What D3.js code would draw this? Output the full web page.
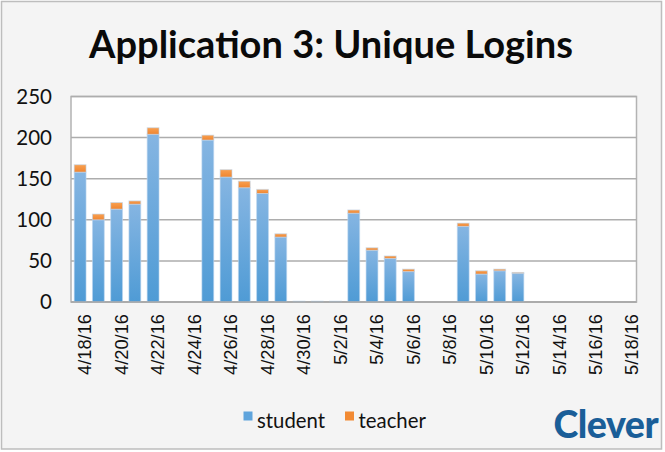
<!DOCTYPE html>
<html>
<head>
<meta charset="utf-8">
<script src="https://cdn.jsdelivr.net/npm/d3@7"></script>
<style>
  html, body { margin: 0; padding: 0; background: #ffffff; }
  svg { display: block; }
</style>
</head>
<body>
<svg id="chart" width="665" height="452"></svg>
<script>
const title = "Application 3: Unique Logins";
const categories = ["4/18/16","4/19/16","4/20/16","4/21/16","4/22/16","4/23/16","4/24/16","4/25/16","4/26/16","4/27/16","4/28/16","4/29/16","4/30/16","5/1/16","5/2/16","5/3/16","5/4/16","5/5/16","5/6/16","5/7/16","5/8/16","5/9/16","5/10/16","5/11/16","5/12/16","5/13/16","5/14/16","5/15/16","5/16/16","5/17/16","5/18/16"];
const student = [158,100,113,119,204,0,0,197,152,139,132,79,1,1,1,108,63,53,37,0,0,92,34,38,35,0,0,0,0,0,0];
const teacher = [9,7,8,4,8,0,0,6,9,8,5,4,0,0,0,4,3,3,3,0,0,4,4,2,1,0,0,0,0,0,0];
const tickLabels = ["4/18/16","4/20/16","4/22/16","4/24/16","4/26/16","4/28/16","4/30/16","5/2/16","5/4/16","5/6/16","5/8/16","5/10/16","5/12/16","5/14/16","5/16/16","5/18/16"];
const yTicks = [0,50,100,150,200,250];
const seriesNames = ["student","teacher"];

const svg = d3.select("#chart");
const plot = {left: 71, right: 636.5, top: 96.5, bottom: 302};

function fitFont(sel, base, target) {
  const w = sel.node().getComputedTextLength();
  sel.attr("font-size", base * target / w);
  return base * target / w;
}

// frame
svg.append("rect").attr("x",1.5).attr("y",1.5).attr("width",660).attr("height",447.5)
  .attr("fill","#f4f4f4").attr("stroke","#bdbdbd").attr("stroke-width",1.5);

const defs = svg.append("defs");
const gB = defs.append("linearGradient").attr("id","gBlue").attr("x1",0).attr("y1",0).attr("x2",0).attr("y2",1);
gB.append("stop").attr("offset","0%").attr("stop-color","#85b5e2");
gB.append("stop").attr("offset","100%").attr("stop-color","#4f9bd5");
const gO = defs.append("linearGradient").attr("id","gOrange").attr("x1",0).attr("y1",0).attr("x2",0).attr("y2",1);
gO.append("stop").attr("offset","0%").attr("stop-color","#f9a050");
gO.append("stop").attr("offset","100%").attr("stop-color","#ef8530");

// plot area
svg.append("rect").attr("x",plot.left).attr("y",plot.top)
  .attr("width",plot.right-plot.left).attr("height",plot.bottom-plot.top)
  .attr("fill","#ffffff").attr("stroke","#b3b3b3").attr("stroke-width",1.5);

const x = d3.scaleBand().domain(categories).range([plot.left, plot.right]).paddingInner(0.35).paddingOuter(0.175);
const y = d3.scaleLinear().domain([0,250]).range([plot.bottom, plot.top]);

// gridlines
svg.append("g").selectAll("line").data(yTicks).join("line")
  .attr("x1",plot.left).attr("x2",plot.right)
  .attr("y1",d=>y(d)).attr("y2",d=>y(d))
  .attr("stroke","#adadad").attr("stroke-width",1.5);

// y axis
const yAxis = svg.append("g").attr("transform",`translate(${plot.left},0)`)
  .call(d3.axisLeft(y).tickValues(yTicks).tickSize(0).tickPadding(19));
yAxis.select(".domain").remove();
yAxis.selectAll("text").attr("font-family","Lato, 'Noto Sans', sans-serif").attr("font-size",20.5).attr("fill","#111");

// stacked bars
const rows = categories.map((c,i)=>({cat:c, student:student[i], teacher:teacher[i]}));
const stack = d3.stack().keys(seriesNames)(rows);
const fills = {student:"url(#gBlue)", teacher:"url(#gOrange)"};
svg.append("g").selectAll("g").data(stack).join("g")
  .attr("fill", d=>fills[d.key])
  .selectAll("rect").data(d=>d.filter(p=>p[1]-p[0]>0)).join("rect")
  .attr("x", d=>x(d.data.cat))
  .attr("width", x.bandwidth())
  .attr("y", d=>y(d[1]))
  .attr("height", d=>y(d[0])-y(d[1]))
  .attr("stroke","rgba(190,215,240,0.6)").attr("stroke-width",1);

// x axis line
svg.append("line").attr("x1",plot.left).attr("x2",plot.right).attr("y1",plot.bottom).attr("y2",plot.bottom)
  .attr("stroke","#a8a8a8").attr("stroke-width",1.5);

// x labels
const xAxis = svg.append("g").attr("transform",`translate(0,${plot.bottom})`)
  .call(d3.axisBottom(x).tickValues(tickLabels).tickSize(0));
xAxis.select(".domain").remove();
xAxis.selectAll("text")
  .attr("font-family","'Liberation Sans', Arial, sans-serif").attr("font-size",18.3).attr("fill","#111")
  .attr("transform","rotate(-90)")
  .attr("text-anchor","end")
  .attr("x",-12).attr("y",0).attr("dy","0.36em");
xAxis.selectAll(".tick").attr("transform", d=>`translate(${x(d)+x.bandwidth()/2+4.5},0)`);

// title
const t = svg.append("text").attr("x",331).attr("y",58).attr("text-anchor","middle")
  .attr("font-family","Lato, 'Noto Sans', sans-serif").attr("font-weight",700)
  .attr("font-size",34).attr("fill","#0a0a0a").text(title);
fitFont(t, 34, 484);

// legend
const legend = svg.append("g").attr("font-family","Lato, 'Noto Sans', sans-serif").attr("fill","#111");
const legendItems = [{k:"student", sx:243.5, tx:257, w:68, c:"#5fa4dc"},{k:"teacher", sx:345, tx:358.5, w:67.5, c:"#f28a33"}];
legend.selectAll("rect").data(legendItems).join("rect")
  .attr("x",d=>d.sx).attr("y",411.5).attr("width",9).attr("height",9).attr("fill",d=>d.c);
legend.selectAll("text").data(legendItems).join("text")
  .attr("x",d=>d.tx).attr("y",427.5).attr("font-size",19).text(d=>d.k)
  .each(function(d){ fitFont(d3.select(this), 19, d.w); });

// logo
const logo = svg.append("text").attr("x",553.5).attr("y",438).attr("font-family","Lato, 'Noto Sans', sans-serif")
  .attr("font-weight",900).attr("font-size",31).attr("fill","#1a5e98").attr("letter-spacing",-0.5).text("Clever");
fitFont(logo, 31, 104);
</script>
</body>
</html>
